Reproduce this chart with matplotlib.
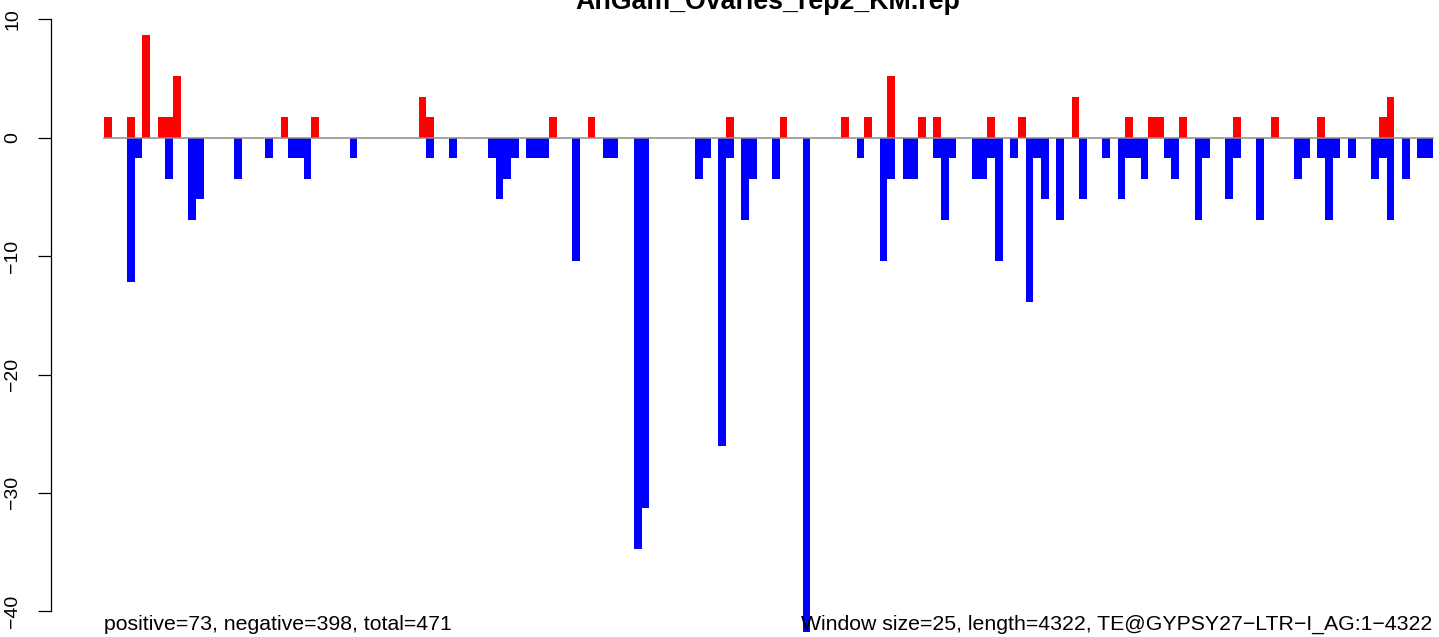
import matplotlib
matplotlib.use('Agg')
import matplotlib.pyplot as plt

plt.rcParams['font.family'] = ['Liberation Sans', 'DejaVu Sans']

# window index (25 bp windows) and read values
pos_idx = [0, 3, 5, 7, 8, 9, 23, 27, 41, 42, 58, 63, 81, 88, 96, 99, 102, 106,
           108, 115, 119, 126, 133, 136, 137, 140, 147, 152, 158, 166, 167]
pos_val = [1.74, 1.74, 8.69, 1.74, 1.74, 5.21, 1.74, 1.74, 3.48, 1.74, 1.74, 1.74,
           1.74, 1.74, 1.74, 1.74, 5.21, 1.74, 1.74, 1.74, 1.74, 3.48, 1.74, 1.74,
           1.74, 1.74, 1.74, 1.74, 1.74, 1.74, 3.48]

neg_idx = [3, 4, 8, 11, 12, 17, 21, 24, 25, 26,
           32, 42, 45, 50, 51, 52, 53, 55, 56, 57,
           61, 65, 66, 69, 70, 77, 78, 80, 81, 83, 84, 87,
           91, 98, 101, 102, 104, 105, 108, 109, 110, 113, 114, 115, 116,
           118, 120, 121, 122, 124, 127, 130, 132, 133, 134, 135, 138, 139, 142, 143,
           146, 147, 150, 155, 156, 158, 159, 160, 162, 165, 166, 167, 169, 171, 172]
neg_val = [-12.17, -1.74, -3.48, -6.95, -5.21, -3.48, -1.74, -1.74, -1.74, -3.48,
           -1.74, -1.74, -1.74, -1.74, -5.21, -3.48, -1.74, -1.74, -1.74, -1.74,
           -10.43, -1.74, -1.74, -34.76, -31.28, -3.48, -1.74, -26.07, -1.74, -6.95, -3.48, -3.48,
           -41.71, -1.74, -10.43, -3.48, -3.48, -3.48, -1.74, -6.95, -1.74, -3.48, -3.48, -1.74, -10.43,
           -1.74, -13.90, -1.74, -5.21, -6.95, -5.21, -1.74, -5.21, -1.74, -1.74, -3.48, -1.74, -3.48, -6.95, -1.74,
           -5.21, -1.74, -6.95, -3.48, -1.74, -1.74, -6.95, -1.74, -1.74, -3.48, -1.74, -6.95, -3.48, -1.74, -1.74]

n_windows = 173
yticks = [-40, -30, -20, -10, 0, 10]
title = 'AnGam_Ovaries_rep2_KM.rep'
left_note = 'positive=73, negative=398, total=471'
right_note = 'Window size=25, length=4322, TE@GYPSY27\u2212LTR\u2212I_AG:1\u22124322'

fig = plt.figure(figsize=(14.39, 6.37), dpi=100)
ax = fig.add_axes([50.7 / 1439, -18.5 / 637, 1435.1 / 1439, 644.6 / 637])

ax.bar(pos_idx, pos_val, width=1, align='edge', color='#ff0000', linewidth=0)
ax.bar(neg_idx, neg_val, width=1, align='edge', color='#0000ff', linewidth=0)
ax.plot([0, n_windows], [0, 0], color='#8c8c8c', lw=1.1, zorder=5)

ax.set_xlim(-0.04 * n_windows, n_windows * 1.04)
ax.set_ylim(-43.73, 10.71)

for s in ['top', 'right', 'bottom']:
    ax.spines[s].set_visible(False)
ax.spines['left'].set_bounds(-40, 10)
ax.spines['left'].set_linewidth(0.9)
ax.set_xticks([])
ax.set_yticks(yticks)
ax.set_yticklabels([str(t).replace('-', '\u2212') for t in yticks],
                   rotation=90, va='center', ha='center', fontsize=14)
ax.tick_params(axis='y', length=9.4, width=0.9, pad=18)

ax.text(0, -41.1, left_note, ha='left', va='center', fontsize=15.3)
ax.text(n_windows, -41.1, right_note, ha='right', va='center', fontsize=15.3)

# title sits partly above the top edge, as in the reference
fig.text(768 / 1439, 1 - 9.3 / 637, title, ha='center', va='baseline',
         fontsize=19.3, fontweight='bold')

fig.savefig('out.png', dpi=100)
